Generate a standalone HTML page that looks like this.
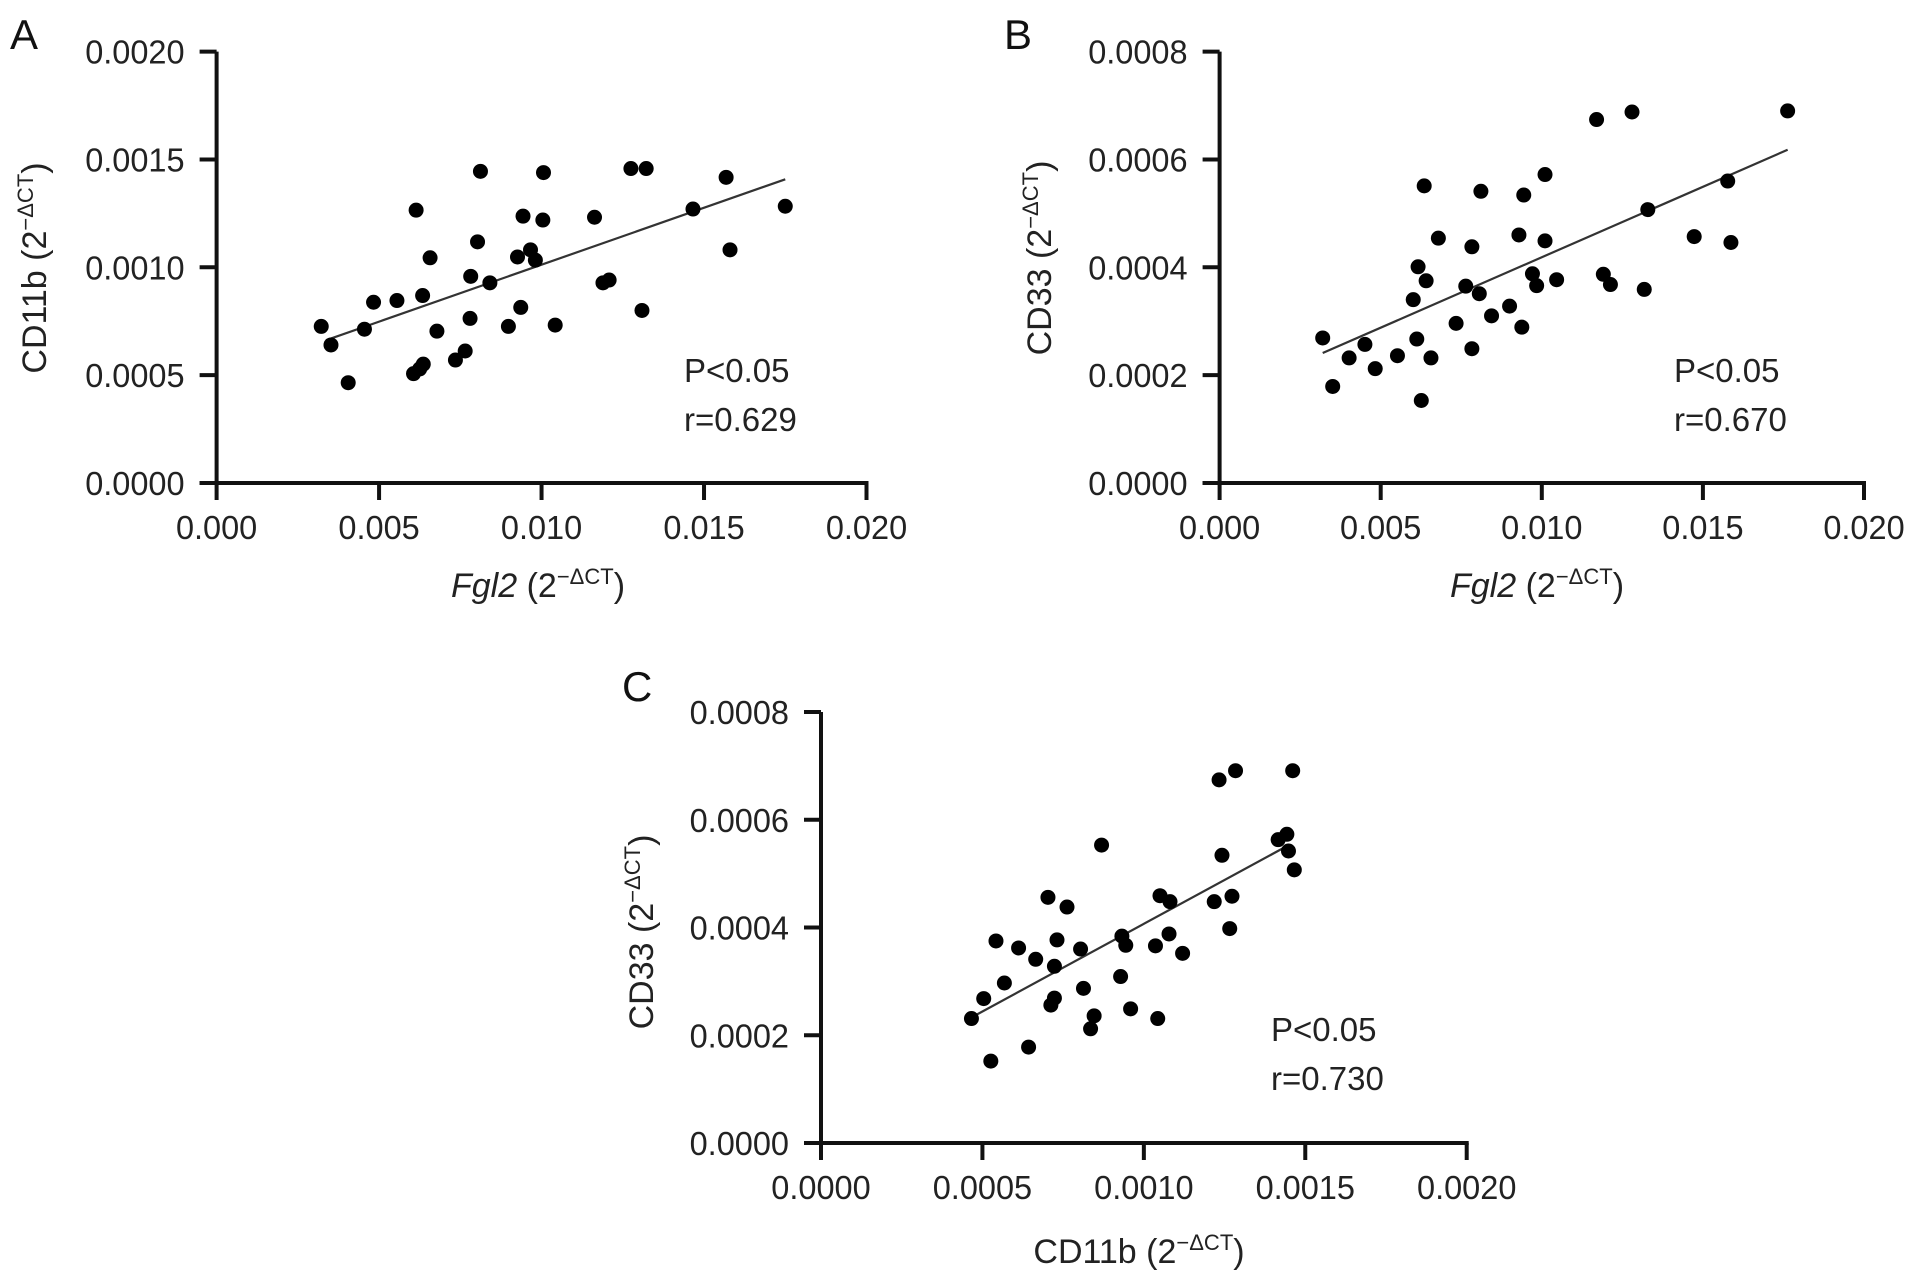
<!DOCTYPE html>
<html><head><meta charset="utf-8"><style>
html,body{margin:0;padding:0;background:#fff;}
svg{display:block;font-family:"Liberation Sans",Arial,sans-serif;}
</style></head><body>
<svg id="fig" width="1913" height="1283" viewBox="0 0 1913 1283"></svg>
<script>
// ---- Data ----
const aX = [0.00322,0.00352,0.00405,0.00455,0.00483,0.00555,0.00614,0.00606,0.00625,0.00636,0.00634,0.00657,0.00678,0.00735,0.00765,0.00780,0.00782,0.00803,0.00812,0.00841,0.00898,0.00926,0.00936,0.00943,0.00966,0.00981,0.01004,0.01006,0.01042,0.01163,0.01189,0.01208,0.01275,0.01309,0.01322,0.01466,0.01568,0.01580,0.01750];
const aY = [0.000726,0.000640,0.000465,0.000713,0.000838,0.000846,0.001265,0.000507,0.000529,0.000551,0.000869,0.001044,0.000704,0.000570,0.000612,0.000763,0.000958,0.001118,0.001445,0.000928,0.000726,0.001048,0.000814,0.001237,0.001081,0.001033,0.001219,0.001439,0.000732,0.001232,0.000928,0.000941,0.001458,0.000800,0.001458,0.001270,0.001417,0.001081,0.001283];
const aFitX = [0.00337,0.0175];
const aFitY = [0.000662,0.001408];

const bX = [0.00320,0.00351,0.00402,0.00451,0.00483,0.00552,0.00601,0.00612,0.00616,0.00626,0.00635,0.00641,0.00656,0.00679,0.00734,0.00764,0.00783,0.00783,0.00806,0.00811,0.00844,0.00900,0.00929,0.00938,0.00944,0.00971,0.00984,0.01010,0.01010,0.01046,0.01191,0.01213,0.01170,0.01280,0.01318,0.01329,0.01473,0.01577,0.01587,0.01763];
const bY = [0.000269,0.000179,0.000232,0.000257,0.000212,0.000236,0.000340,0.000267,0.000401,0.000153,0.000551,0.000375,0.000232,0.000454,0.000296,0.000365,0.000438,0.000249,0.000351,0.000541,0.000310,0.000328,0.000460,0.000289,0.000534,0.000388,0.000366,0.000572,0.000449,0.000377,0.000387,0.000368,0.000674,0.000688,0.000359,0.000507,0.000457,0.000560,0.000446,0.000690];
const bFitX = [0.0032,0.01763];
const bFitY = [0.000241,0.000618];

const cX = [0.000466,0.000504,0.000526,0.000542,0.000568,0.000612,0.000643,0.000665,0.000703,0.000712,0.000723,0.000723,0.000731,0.000762,0.000804,0.000813,0.000835,0.000846,0.000869,0.000928,0.000932,0.000944,0.000959,0.001036,0.001043,0.001050,0.001078,0.001081,0.001120,0.001218,0.001242,0.001233,0.001266,0.001273,0.001284,0.001416,0.001443,0.001448,0.001466,0.001461];
const cY = [0.000231,0.000268,0.000152,0.000375,0.000297,0.000362,0.000178,0.000341,0.000456,0.000256,0.000269,0.000328,0.000377,0.000438,0.000360,0.000287,0.000212,0.000236,0.000553,0.000309,0.000384,0.000367,0.000249,0.000366,0.000231,0.000459,0.000388,0.000448,0.000352,0.000448,0.000534,0.000674,0.000398,0.000458,0.000691,0.000563,0.000573,0.000542,0.000507,0.000691];
const cFitX = [0.000475,0.001443];
const cFitY = [0.000236,0.000551];

const abXTicks = [0,0.005,0.010,0.015,0.020];
const abXTickLabels = ["0.000","0.005","0.010","0.015","0.020"];
const aYTicks = [0,0.0005,0.0010,0.0015,0.0020];
const aYTickLabels = ["0.0000","0.0005","0.0010","0.0015","0.0020"];
const cd33YTicks = [0,0.0002,0.0004,0.0006,0.0008];
const cd33YTickLabels = ["0.0000","0.0002","0.0004","0.0006","0.0008"];
const cXTicks = [0,0.0005,0.0010,0.0015,0.0020];
const cXTickLabels = ["0.0000","0.0005","0.0010","0.0015","0.0020"];

const NS = "http://www.w3.org/2000/svg";
const svg = document.getElementById('fig');
function mk(tag, attrs, parent){
  const e = document.createElementNS(NS, tag);
  for (const k in attrs) e.setAttribute(k, attrs[k]);
  (parent||svg).appendChild(e);
  return e;
}
function tlen(s, fs){ let w=0; for (const c of s) w += (c==='.')?0.278:0.556; return w*fs; }

function panel(p){
  const g = mk('g', {});
  
  
  const sx = v => p.x0 + (v - p.xmin)/(p.xmax - p.xmin)*(p.x1 - p.x0);
  const sy = v => p.y0 - (v - p.ymin)/(p.ymax - p.ymin)*(p.y0 - p.y1);
  const ya = mk('line', {x1:p.x0, y1:p.y1, x2:p.x0, y2:p.y0+2, stroke:'#111', 'stroke-width':4}, g);
  
  
  const xa = mk('line', {x1:p.x0-17, y1:p.y0, x2:p.x1+2, y2:p.y0, stroke:'#111', 'stroke-width':4}, g);
  
  
  p.yt.forEach((v,i)=>{
    const y = sy(v);
    mk('line', {x1:p.x0-17, y1:y, x2:p.x0, y2:y, stroke:'#111', 'stroke-width':4}, g);
    const s = p.ytl[i];
    const t = mk('text', {x:p.x0-32, y:y+12, 'font-size':33, 'text-anchor':'end', fill:'#222', textLength:tlen(s,32.5).toFixed(1), lengthAdjust:'spacingAndGlyphs'}, g);
    t.textContent = s;
    
    
  });
  p.xt.forEach((v,i)=>{
    const x = sx(v);
    mk('line', {x1:x, y1:p.y0, x2:x, y2:p.y0+17, stroke:'#111', 'stroke-width':4}, g);
    const s = p.xtl[i];
    const t = mk('text', {x:x, y:p.y0+56, 'font-size':33, 'text-anchor':'middle', fill:'#222', textLength:tlen(s,32.5).toFixed(1), lengthAdjust:'spacingAndGlyphs'}, g);
    t.textContent = s;
    
    
  });
  const fl = mk('line', {x1:sx(p.fx[0]), y1:sy(p.fy[0]), x2:sx(p.fx[1]), y2:sy(p.fy[1]), stroke:'#333', 'stroke-width':2.2}, g);
  
  
  p.xs.forEach((v,i)=>{
    const c = mk('ellipse', {cx:sx(v), cy:sy(p.ys[i]), rx:7.5, ry:7.5, fill:'#000'}, g);
    
    
  });
}

panel({id:'a', x0:216.6, x1:866.5, y0:483, y1:51.6, xmin:0, xmax:0.02, ymin:0, ymax:0.002, xs:aX, ys:aY, fx:aFitX, fy:aFitY, xt:abXTicks, xtl:abXTickLabels, yt:aYTicks, ytl:aYTickLabels});
panel({id:'b', x0:1219.6, x1:1864, y0:483, y1:51.6, xmin:0, xmax:0.02, ymin:0, ymax:0.0008, xs:bX, ys:bY, fx:bFitX, fy:bFitY, xt:abXTicks, xtl:abXTickLabels, yt:cd33YTicks, ytl:cd33YTickLabels});
panel({id:'c', x0:821, x1:1466.7, y0:1143, y1:712, xmin:0, xmax:0.002, ymin:0, ymax:0.0008, xs:cX, ys:cY, fx:cFitX, fy:cFitY, xt:cXTicks, xtl:cXTickLabels, yt:cd33YTicks, ytl:cd33YTickLabels});
</script>
<svg width="1913" height="1283" viewBox="0 0 1913 1283" style="position:absolute;left:0;top:0;pointer-events:none;font-family:'Liberation Sans',Arial,sans-serif;">
  <text x="10" y="49" font-size="42" fill="#111">A</text>
  <text x="1004" y="49" font-size="42" fill="#111">B</text>
  <text x="622" y="701" font-size="42" fill="#111">C</text>

  <text transform="translate(46,268) rotate(-90)" font-size="34" fill="#222" text-anchor="middle">CD11b (2<tspan dy="-13" font-size="22">−ΔCT</tspan><tspan dy="13">)</tspan></text>
  <text transform="translate(1051,258) rotate(-90)" font-size="34" fill="#222" text-anchor="middle">CD33 (2<tspan dy="-13" font-size="22">−ΔCT</tspan><tspan dy="13">)</tspan></text>
  <text transform="translate(653,932) rotate(-90)" font-size="34" fill="#222" text-anchor="middle">CD33 (2<tspan dy="-13" font-size="22">−ΔCT</tspan><tspan dy="13">)</tspan></text>

  <text x="538" y="597" font-size="34" fill="#222" text-anchor="middle"><tspan font-style="italic">Fgl2</tspan> (2<tspan dy="-13" font-size="22">−ΔCT</tspan><tspan dy="13">)</tspan></text>
  <text x="1537" y="597" font-size="34" fill="#222" text-anchor="middle"><tspan font-style="italic">Fgl2</tspan> (2<tspan dy="-13" font-size="22">−ΔCT</tspan><tspan dy="13">)</tspan></text>
  <text x="1139" y="1263" font-size="34" fill="#222" text-anchor="middle">CD11b (2<tspan dy="-13" font-size="22">−ΔCT</tspan><tspan dy="13">)</tspan></text>

  <text x="684" y="382" font-size="33" fill="#222">P&lt;0.05</text>
  <text x="684" y="431" font-size="33" fill="#222">r=0.629</text>
  <text x="1674" y="382" font-size="33" fill="#222">P&lt;0.05</text>
  <text x="1674" y="431" font-size="33" fill="#222">r=0.670</text>
  <text x="1271" y="1041" font-size="33" fill="#222">P&lt;0.05</text>
  <text x="1271" y="1090" font-size="33" fill="#222">r=0.730</text>
</svg>
</body></html>
